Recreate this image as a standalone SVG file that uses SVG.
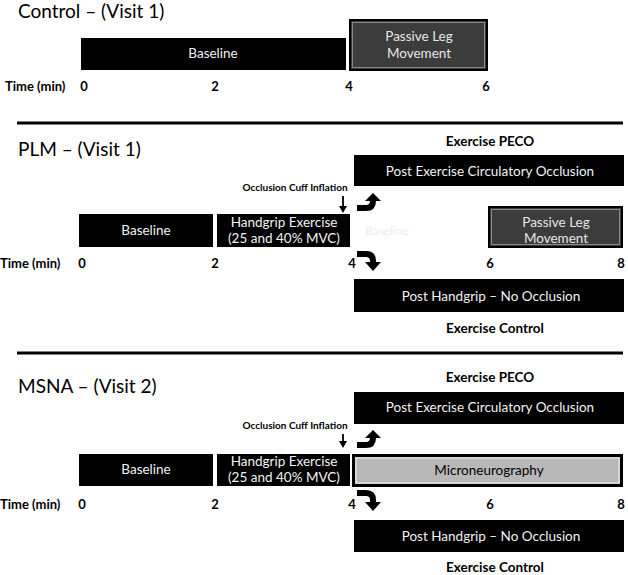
<svg xmlns="http://www.w3.org/2000/svg" width="628" height="575" viewBox="0 0 628 575">
<style>
text{font-family:Lato,"Open Sans","Liberation Sans",sans-serif}
.title{font-size:19px;fill:#000}
.hdr{font-size:13.5px;font-weight:bold;fill:#000;text-anchor:middle}
.time{font-size:13px;font-weight:bold;fill:#000}
.num{font-size:13px;font-weight:bold;fill:#000;text-anchor:middle}
.occ{font-size:10px;font-weight:bold;fill:#000;text-anchor:middle}
.blk{fill:#000}
.lbl{font-size:13.5px;fill:#f2f2f2;text-anchor:middle}
.plm{fill:#3c3c3c;stroke:#000;stroke-width:2}
.plmin{fill:none;stroke:#8a8a8a;stroke-width:1}
.plmt{font-size:13.5px;fill:#e6e6e6;text-anchor:middle}
.mic{fill:#b8b8b8;stroke:#000;stroke-width:3}
.micin{fill:none;stroke:#f2f2f2;stroke-width:1}
.mict{font-size:13.5px;fill:#000;text-anchor:middle}
.faint{font-size:12px;fill:#ececec;text-anchor:middle}
.sep{stroke:#000;stroke-width:3}
.bend{fill:none;stroke:#000;stroke-width:6}
.thin{stroke:#000;stroke-width:1.8}
</style>

<!-- Control section -->
<g id="control-title"><text class="title" x="18" y="18">Control – (Visit 1)</text></g>
<g id="c-baseline"><rect class="blk" x="81" y="38" width="265" height="32"/><text class="lbl" x="213" y="58">Baseline</text></g>
<g id="c-plm"><rect class="plm" x="350" y="20" width="137" height="50"/><rect class="plmin" x="352.5" y="22.5" width="132" height="45"/><text class="plmt" x="419" y="41">Passive Leg</text><text class="plmt" x="419" y="58">Movement</text></g>
<g id="c-time"><text class="time" x="5" y="91">Time (min)</text><text class="num" x="84" y="91">0</text><text class="num" x="215" y="91">2</text><text class="num" x="349" y="91">4</text><text class="num" x="486" y="91">6</text></g>

<line class="sep" x1="17" y1="123" x2="623" y2="123"/>

<!-- PLM section -->
<g id="plm-title"><text class="title" x="18" y="156">PLM – (Visit 1)</text></g>
<g id="p-peco-hdr"><text class="hdr" x="490" y="146">Exercise PECO</text></g>
<g id="p-peco"><rect class="blk" x="354" y="155" width="270" height="31"/><text class="lbl" x="490" y="176">Post Exercise Circulatory Occlusion</text></g>
<g id="p-occ"><text class="occ" x="295" y="191">Occlusion Cuff Inflation</text></g>
<g id="p-baseline"><rect class="blk" x="79" y="214" width="134" height="33"/><text class="lbl" x="146" y="235">Baseline</text></g>
<g id="p-handgrip"><rect class="blk" x="217" y="214" width="133" height="33"/><text class="lbl" x="284" y="227">Handgrip Exercise</text><text class="lbl" x="284" y="243">(25 and 40% MVC)</text></g>
<g id="p-faint"><text class="faint" x="387" y="235">Baseline</text></g>
<g id="p-plm"><rect class="plm" x="489" y="207" width="133" height="40"/><rect class="plmin" x="491.5" y="209.5" width="128" height="35"/><text class="plmt" x="556" y="227">Passive Leg</text><text class="plmt" x="556" y="243">Movement</text></g>
<g id="p-time"><text class="time" x="0" y="268">Time (min)</text><text class="num" x="82" y="268">0</text><text class="num" x="215" y="268">2</text><text class="num" x="352" y="268">4</text><text class="num" x="490" y="268">6</text><text class="num" x="621" y="268">8</text></g>
<g id="p-nohg"><rect class="blk" x="354" y="279" width="270" height="33"/><text class="lbl" x="491" y="301">Post Handgrip – No Occlusion</text></g>
<g id="p-ctrl-hdr"><text class="hdr" x="495" y="333">Exercise Control</text></g>

<line class="sep" x1="17" y1="353" x2="623" y2="353"/>

<!-- MSNA section -->
<g id="msna-title"><text class="title" x="18" y="393">MSNA – (Visit 2)</text></g>
<g id="m-peco-hdr"><text class="hdr" x="490" y="382">Exercise PECO</text></g>
<g id="m-peco"><rect class="blk" x="354" y="392" width="270" height="32"/><text class="lbl" x="490" y="412">Post Exercise Circulatory Occlusion</text></g>
<g id="m-occ"><text class="occ" x="295" y="429">Occlusion Cuff Inflation</text></g>
<g id="m-baseline"><rect class="blk" x="79" y="454" width="134" height="32"/><text class="lbl" x="146" y="474">Baseline</text></g>
<g id="m-handgrip"><rect class="blk" x="217" y="454" width="133" height="32"/><text class="lbl" x="284" y="466">Handgrip Exercise</text><text class="lbl" x="284" y="482">(25 and 40% MVC)</text></g>
<g id="m-micro"><rect class="mic" x="353.5" y="455.5" width="268" height="30"/><rect class="micin" x="356" y="458" width="263" height="25"/><text class="mict" x="489" y="475">Microneurography</text></g>
<g id="m-time"><text class="time" x="0" y="509">Time (min)</text><text class="num" x="82" y="509">0</text><text class="num" x="215" y="509">2</text><text class="num" x="352" y="509">4</text><text class="num" x="490" y="509">6</text><text class="num" x="621" y="509">8</text></g>
<g id="m-nohg"><rect class="blk" x="354" y="520" width="270" height="32"/><text class="lbl" x="491" y="541">Post Handgrip – No Occlusion</text></g>
<g id="m-ctrl-hdr"><text class="hdr" x="495" y="572">Exercise Control</text></g>

<!-- Connectors -->
<g id="connectors">
  <line class="thin" x1="343" y1="196" x2="343" y2="207"/>
  <polygon points="339,206 347,206 343,213"/>
  <path class="bend" d="M357,208 H366 Q373,208 373,201 V200"/>
  <polygon points="365,201 381,201 373,193"/>
  <path class="bend" d="M357,254 H366 Q373,254 373,261 V263"/>
  <polygon points="365,262 381,262 373,271"/>

  <line class="thin" x1="343" y1="434" x2="343" y2="442"/>
  <polygon points="339,441 347,441 343,448"/>
  <path class="bend" d="M357,445 H366 Q373,445 373,438 V437"/>
  <polygon points="365,438 381,438 373,430"/>
  <path class="bend" d="M357,493 H366 Q373,493 373,500 V503"/>
  <polygon points="365,502 381,502 373,511"/>
</g>
</svg>
